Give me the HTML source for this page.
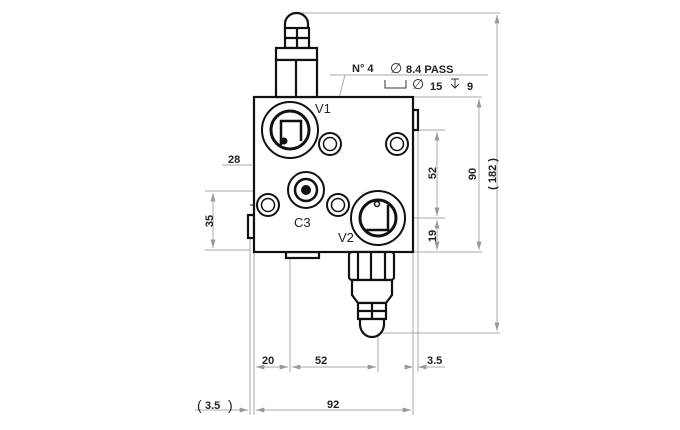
<!DOCTYPE html>
<html><head><meta charset="utf-8"><style>html,body{margin:0;padding:0;background:#fff}svg{display:block}text{font-family:"Liberation Sans",sans-serif;fill:#222}</style></head>
<body>
<svg width="680" height="430" viewBox="0 0 680 430" xmlns="http://www.w3.org/2000/svg">
<defs>
<marker id="a" viewBox="0 0 10 6" refX="10" refY="3" markerWidth="10" markerHeight="5" orient="auto-start-reverse" markerUnits="userSpaceOnUse"><path d="M0,0 L10,3 L0,6z" fill="#999"/></marker>
</defs>
<g stroke="#aaa" stroke-width="1" fill="none">
<line x1="296" y1="13" x2="500" y2="13"/>
<line x1="372" y1="333" x2="500" y2="333"/>
<line x1="413" y1="97" x2="482" y2="97"/>
<line x1="413" y1="130" x2="445" y2="130"/>
<line x1="405" y1="218" x2="445" y2="218"/>
<line x1="413" y1="252" x2="482" y2="252"/>
<line x1="205" y1="191" x2="265" y2="191"/>
<line x1="205" y1="250" x2="250" y2="250"/>
<line x1="250" y1="238" x2="250" y2="415"/>
<line x1="254" y1="252" x2="254" y2="415"/>
<line x1="290" y1="158" x2="290" y2="372"/>
<line x1="378" y1="246" x2="378" y2="372"/>
<line x1="413" y1="252" x2="413" y2="415"/>
<line x1="418" y1="130" x2="418" y2="372"/>
<line x1="330" y1="75" x2="488" y2="75"/>
<line x1="345" y1="75" x2="330" y2="134" marker-end="url(#a)"/>
<line x1="497" y1="15" x2="497" y2="331" marker-start="url(#a)" marker-end="url(#a)"/>
<line x1="479" y1="99" x2="479" y2="250" marker-start="url(#a)" marker-end="url(#a)"/>
<line x1="437" y1="132" x2="437" y2="216" marker-start="url(#a)" marker-end="url(#a)"/>
<line x1="437" y1="220" x2="437" y2="250" marker-start="url(#a)" marker-end="url(#a)"/>
<line x1="213" y1="193" x2="213" y2="248" marker-start="url(#a)" marker-end="url(#a)"/>
<line x1="222" y1="165" x2="252" y2="165"/>
<line x1="256" y1="165" x2="288" y2="165" marker-start="url(#a)" marker-end="url(#a)"/>
<line x1="256" y1="367" x2="288" y2="367" marker-start="url(#a)" marker-end="url(#a)"/>
<line x1="292" y1="367" x2="376" y2="367" marker-start="url(#a)" marker-end="url(#a)"/>
<line x1="405" y1="367" x2="413" y2="367" marker-end="url(#a)"/>
<line x1="418" y1="367" x2="445" y2="367" marker-start="url(#a)"/>
<line x1="256" y1="410" x2="411" y2="410" marker-start="url(#a)" marker-end="url(#a)"/>
<line x1="195" y1="410" x2="248" y2="410" marker-end="url(#a)"/>
</g>
<g stroke="#222" stroke-width="1">
<line x1="256" y1="130" x2="324" y2="130"/><line x1="290" y1="96" x2="290" y2="164"/>
<line x1="312" y1="144" x2="348" y2="144"/><line x1="330" y1="126" x2="330" y2="162"/>
<line x1="379" y1="144" x2="413" y2="144"/><line x1="397" y1="126" x2="397" y2="162"/>
<line x1="282" y1="190" x2="330" y2="190"/><line x1="306" y1="166" x2="306" y2="214"/>
<line x1="250" y1="205" x2="286" y2="205"/><line x1="268" y1="187" x2="268" y2="223"/>
<line x1="320" y1="205" x2="356" y2="205"/><line x1="338" y1="187" x2="338" y2="223"/>
<line x1="346" y1="218" x2="412" y2="218"/><line x1="378" y1="186" x2="378" y2="250"/>
</g>
<g stroke="#111" stroke-width="2.2" fill="#fff">
<rect x="413" y="110" width="5" height="20"/>
<rect x="248" y="215" width="6" height="23"/>
<rect x="286" y="252" width="33" height="6"/>
<rect x="254" y="97" width="159" height="155"/>
<path d="M285,30 L285,24 A11.5,11 0 0 1 308,24 L308,30z"/>
<rect x="285" y="28" width="24" height="20"/>
<line x1="297" y1="28" x2="297" y2="48"/><line x1="285" y1="38" x2="309" y2="38"/>
<rect x="276" y="48" width="41" height="12"/>
<rect x="276" y="60" width="41" height="37"/>
<line x1="296" y1="60" x2="296" y2="97"/>
<rect x="349" y="252" width="45" height="28" rx="3"/>
<line x1="358" y1="252" x2="358" y2="280"/><line x1="371" y1="252" x2="371" y2="280"/><line x1="385" y1="252" x2="385" y2="280"/>
<path d="M352,280 L392,280 L392,295 L386,303 L358,303 L352,295z"/>
<rect x="358" y="303" width="28" height="16"/>
<line x1="372" y1="303" x2="372" y2="319"/><line x1="358" y1="311" x2="386" y2="311"/>
<path d="M360,319 L360,324 A12,13 0 0 0 384,324 L384,319z"/>
</g>
<g stroke="#111" fill="none">
<circle cx="290" cy="130" r="28" stroke-width="2"/>
<circle cx="290" cy="130" r="19" stroke-width="3"/>
<path d="M281,145 L281,121 L301,121 L301,141" stroke-width="2.5"/>
<circle cx="284" cy="141" r="3" fill="#111"/>
<circle cx="330" cy="144" r="11" stroke-width="2"/><circle cx="330" cy="144" r="6.5" stroke-width="1.5"/>
<circle cx="397" cy="144" r="11" stroke-width="2"/><circle cx="397" cy="144" r="6.5" stroke-width="1.5"/>
<circle cx="306" cy="190" r="18" stroke-width="2"/><circle cx="306" cy="190" r="11" stroke-width="2.5"/>
<circle cx="306" cy="190" r="4.5" fill="#111"/>
<circle cx="268" cy="205" r="11" stroke-width="2"/><circle cx="268" cy="205" r="6.5" stroke-width="1.5"/>
<circle cx="338" cy="205" r="11" stroke-width="2"/><circle cx="338" cy="205" r="6.5" stroke-width="1.5"/>
<circle cx="378" cy="218" r="27" stroke-width="2"/>
<circle cx="378" cy="218" r="18" stroke-width="3"/>
<path d="M366,230 L388,230 L388,205" stroke-width="2.5"/>
<circle cx="377" cy="204" r="2.5" stroke-width="1.5"/>
</g>
<g font-size="13">
<text x="315" y="113">V1</text>
<text x="294" y="227">C3</text>
<text x="338" y="242">V2</text>
</g>
<g font-size="11" font-weight="bold" style="fill:#333">
<text x="352" y="72">N° 4</text>
<text x="390" y="73" font-size="14" font-weight="normal">∅</text>
<text x="406" y="73">8.4 PASS</text>
<path d="M385,80 L385,88 L406,88 L406,80" stroke="#333" fill="none"/>
<text x="412" y="89" font-size="14" font-weight="normal">∅</text>
<text x="430" y="90">15</text>
<path d="M451,79 L459,79 M455,79 L455,88 M451,84 L455,88 L459,84" stroke="#333" fill="none"/>
<text x="467" y="90">9</text>
<text x="228" y="163">28</text>
<text x="262" y="364">20</text>
<text x="315" y="364">52</text>
<text x="427" y="364">3.5</text>
<text x="327" y="408">92</text>
<text x="197" y="410" font-size="14" font-weight="normal">(</text><text x="205" y="409">3.5</text><text x="228" y="410" font-size="14" font-weight="normal">)</text>
<text transform="translate(213,221) rotate(-90)" text-anchor="middle">35</text>
<text transform="translate(436,173) rotate(-90)" text-anchor="middle">52</text>
<text transform="translate(436,236) rotate(-90)" text-anchor="middle">19</text>
<text transform="translate(476,174) rotate(-90)" text-anchor="middle">90</text>
<text transform="translate(496,174) rotate(-90)" text-anchor="middle">(  182  )</text>
</g>
</svg>
</body></html>
